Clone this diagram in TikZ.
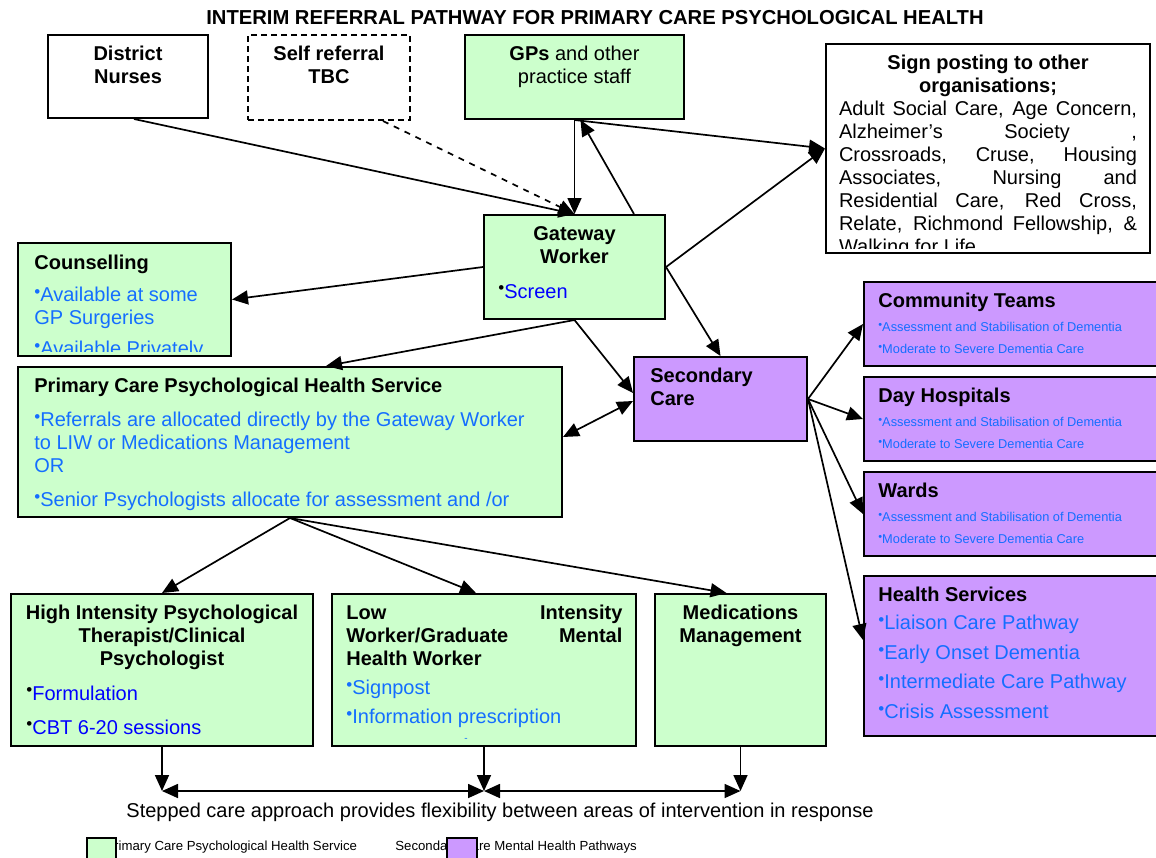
\documentclass[tikz,border=0pt]{standalone}
\usepackage{fontspec}
\usepackage{graphicx}
\setmainfont{Liberation Sans}
\usetikzlibrary{arrows.meta,fit}

\definecolor{primgreen}{RGB}{204,255,204}
\definecolor{secpurple}{RGB}{204,153,255}
\definecolor{ltblue}{RGB}{20,110,255}
\definecolor{dkblue}{RGB}{0,0,255}

% viñeta pequeña y elevada
\newcommand{\bul}{\raisebox{.22em}{\scalebox{.85}{•}}}

\begin{document}
\begin{tikzpicture}[
    x=0.5pt, y=-0.5pt,
    box/.style={draw, line width=1pt, inner sep=0pt},
    primbox/.style={box, fill=primgreen},
    secbox/.style={box, fill=secpurple},
    plainbox/.style={box, fill=white},
    txt/.style={inner sep=0pt, font=\fontsize{10}{11.5}\selectfont},
    headtxt/.style={inner sep=0pt, font=\fontsize{10}{11.5}\selectfont\bfseries},
    bultxt/.style={inner sep=0pt, font=\fontsize{6.4}{7}\selectfont, text=ltblue},
    link/.style={-{Triangle[length=8pt,width=7pt]}, line width=0.85pt},
    twoway/.style={{Triangle[length=8pt,width=7pt]}-{Triangle[length=8pt,width=7pt]}, line width=0.85pt}
]
    \useasboundingbox (0,0) rectangle (1156,857);

    % Título
    \node[headtxt, font=\fontsize{10.1}{11}\selectfont\bfseries, anchor=base] (title) at (595,24) {INTERIM REFERRAL PATHWAY FOR PRIMARY CARE PSYCHOLOGICAL HEALTH};

    % Cajas
    \node[plainbox, fit={(48,35) (208,118)}] (dn) {};
    \node[plainbox, dash pattern=on 3pt off 2pt, fit={(248,35) (410,120)}] (sr) {};
    \node[primbox, fit={(465,35) (684,119)}] (gp) {};
    \node[plainbox, fit={(826,44) (1150,253)}] (sp) {};
    \node[primbox, fit={(484,215) (665,319)}] (gw) {};
    \node[primbox, fit={(18,243) (231,356)}] (cn) {};
    \node[primbox, fit={(18,367) (562,517)}] (pc) {};
    \node[secbox, fit={(634,357) (807,441)}] (sc) {};
    \node[secbox, fit={(864,282) (1166,366)}] (ct) {};
    \node[secbox, fit={(864,377) (1166,461)}] (dh) {};
    \node[secbox, fit={(864,472) (1166,556)}] (wd) {};
    \node[secbox, fit={(864,576) (1166,736)}] (hs) {};
    \node[primbox, fit={(11,594) (313,746)}] (hi) {};
    \node[primbox, fit={(332,594) (636,746)}] (li) {};
    \node[primbox, fit={(655,594) (826,746)}] (md) {};

    % Textos de arriba
    \node[headtxt, align=center, anchor=north] (dn-t) at (128,46) {District\\Nurses};
    \node[headtxt, align=center, anchor=north] (sr-t) at (329,46) {Self referral\\TBC};
    \node[txt, align=center, anchor=north] (gp-t) at (574.5,46) {\textbf{GPs} and other\\practice staff};
    \node[headtxt, align=center, anchor=north] (sp-h) at (988,55) {Sign posting to other\\organisations;};
    \begin{scope}
        \clip (826,44) rectangle (1150,248);
        \node[txt, text width=149pt, align=justify, anchor=north] (sp-t) at (988,101) {Adult Social Care, Age Concern,\linebreak Alzheimer’s Society ,\linebreak Crossroads, Cruse, Housing\linebreak Associates, Nursing and\linebreak Residential Care, Red Cross,\linebreak Relate, Richmond Fellowship, \&\linebreak Walking for Life};
    \end{scope}

    % Gateway y consejería
    \node[headtxt, align=center, anchor=north] (gw-t) at (574.5,226) {Gateway\\Worker};
    \node[txt, anchor=base west] (gw-b) at (498,298) {\bul\textcolor{dkblue}{Screen}};
    \node[headtxt, anchor=base west] (cn-t) at (34,269) {Counselling};
    \begin{scope}
        \clip (18,243) rectangle (231,351);
        \node[txt, text=ltblue, align=left, anchor=north west] (cn-b) at (34,287) {\bul Available at some\\GP Surgeries\\[4pt]\bul Available Privately};
    \end{scope}

    % Servicio primario y secundario
    \node[headtxt, anchor=base west] (pc-t) at (34,392) {Primary Care Psychological Health Service};
    \node[txt, text=ltblue, align=left, anchor=north west] (pc-b) at (34,412) {\bul Referrals are allocated directly by the Gateway Worker\\to LIW or Medications Management\\OR\\[5.5pt]\bul Senior Psychologists allocate for assessment and /or};
    \node[headtxt, align=left, anchor=north west] (sc-t) at (650,368) {Secondary\\Care};

    % Cajas moradas
    \node[headtxt, anchor=base west] (ct-t) at (878,307) {Community Teams};
    \node[bultxt, anchor=base west] (ct-b1) at (878,331) {\bul Assessment and Stabilisation of Dementia};
    \node[bultxt, anchor=base west] (ct-b2) at (878,353) {\bul Moderate to Severe Dementia Care};
    \node[headtxt, anchor=base west] (dh-t) at (878,402) {Day Hospitals};
    \node[bultxt, anchor=base west] (dh-b1) at (878,426) {\bul Assessment and Stabilisation of Dementia};
    \node[bultxt, anchor=base west] (dh-b2) at (878,448) {\bul Moderate to Severe Dementia Care};
    \node[headtxt, anchor=base west] (wd-t) at (878,497) {Wards};
    \node[bultxt, anchor=base west] (wd-b1) at (878,521) {\bul Assessment and Stabilisation of Dementia};
    \node[bultxt, anchor=base west] (wd-b2) at (878,543) {\bul Moderate to Severe Dementia Care};
    \node[headtxt, anchor=base west] (hs-t) at (878,601) {Health Services};
    \node[txt, font=\fontsize{10}{14.75}\selectfont, text=ltblue, align=left, anchor=north west] (hs-b) at (878,615) {\bul Liaison Care Pathway\\\bul Early Onset Dementia\\\bul Intermediate Care Pathway\\\bul Crisis Assessment};

    % Cajas de abajo
    \node[headtxt, align=center, anchor=north] (hi-t) at (162,605) {High Intensity Psychological\\Therapist/Clinical\\Psychologist};
    \node[txt, anchor=base west] (hi-b1) at (26,700) {\bul\textcolor{dkblue}{Formulation}};
    \node[txt, anchor=base west] (hi-b2) at (26,734) {\bul\textcolor{dkblue}{CBT 6-20 sessions}};
    \node[headtxt, text width=138pt, align=justify, anchor=north west] (li-t) at (346,605) {Low Intensity\linebreak Worker/Graduate Mental\linebreak Health Worker};
    \node[txt, font=\fontsize{10}{14.5}\selectfont, text=ltblue, align=left, anchor=north west] (li-b) at (346,680) {\bul Signpost\\\bul Information prescription};
    \node[txt, font=\fontsize{5}{5}\selectfont, text=ltblue] (li-d) at (466,740) {-};
    \node[headtxt, align=center, anchor=north] (md-t) at (740.5,605) {Medications\\Management};

    % Flechas
    \draw[link] ([xshift=3pt]dn.south) -- (gw.north);
    \draw[link, dashed] ([xshift=-14pt]sr.south east) -- (gw.north);
    \draw[link] (gp.south) -- (gw.north);
    \draw[link] ([xshift=-16pt]gw.north east) -- ([xshift=3pt]gp.south);
    \draw[link] (gp.south) -- (sp.west);
    \draw[link] (gw.east) -- (sp.west);
    \draw[link] (gw.west) -- (cn.east);
    \draw[link] (gw.south) -- ([xshift=18pt]pc.north);
    \draw[link] (gw.south) -- ([yshift=3pt]sc.west);
    \draw[link] (gw.east) -- (sc.north);
    \draw[twoway] ([yshift=2.5pt]pc.east) -- ([yshift=-1pt]sc.west);
    \draw[link] (sc.east) -- (ct.west);
    \draw[link] (sc.east) -- (dh.west);
    \draw[link] (sc.east) -- (wd.west);
    \draw[link] (sc.east) -- ([yshift=8pt]hs.west);
    \draw[link] (pc.south) -- (hi.north);
    \draw[link] (pc.south) -- ([xshift=-4pt]li.north);
    \draw[link] (pc.south) -- ([xshift=-7pt]md.north);

    % Atención escalonada
    \coordinate (s1) at (162,791);
    \coordinate (s2) at (484,791);
    \coordinate (s3) at (740.5,791);
    \draw[link] (hi.south) -- (s1);
    \draw[link] (li.south) -- (s2);
    \draw[link] (md.south) -- (s3);
    \draw[twoway] (s1) -- (s2);
    \draw[twoway] (s2) -- (s3);
    \node[txt, font=\fontsize{10}{11}\selectfont, anchor=base] (stepped) at (500,817) {Stepped care approach provides flexibility between areas of intervention in response};

    % Leyenda
    \node[txt, font=\fontsize{6.6}{7}\selectfont, anchor=base west] (lg-pt) at (105,850) {Primary Care Psychological Health Service};
    \node[txt, font=\fontsize{6.6}{7}\selectfont, anchor=base west] (lg-st) at (395,850) {Secondary Care Mental Health Pathways};
    \node[primbox, fit={(87,838) (116,870)}] (lg-p) {};
    \node[secbox, fit={(447,838) (477,870)}] (lg-s) {};
\end{tikzpicture}
\end{document}
